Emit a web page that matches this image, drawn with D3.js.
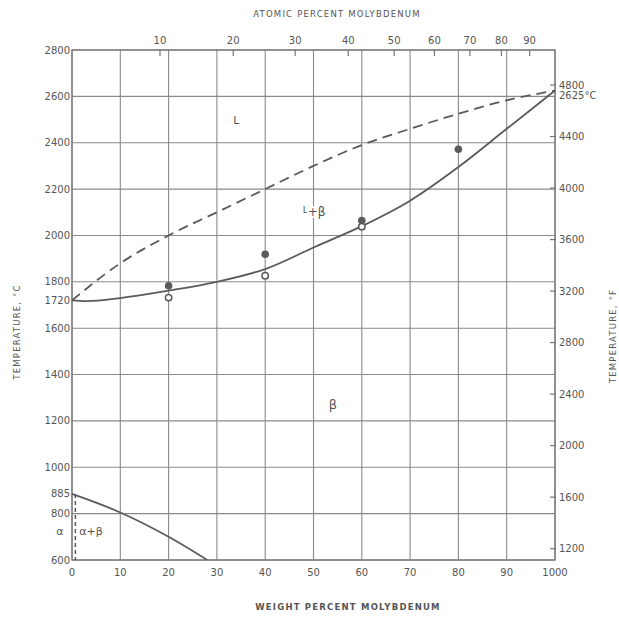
<!DOCTYPE html>
<html>
<head>
<meta charset="utf-8">
<title>Ti-Mo phase diagram</title>
<script src="https://d3js.org/d3.v7.min.js"></script>
<style>
  body { margin: 0; background: #fff; }
  svg { display: block; }
  text { font-family: "DejaVu Sans", sans-serif; fill: #555; }
  .tick-lbl { font-size: 10px; }
  .title { font-size: 8.5px; letter-spacing: 1.2px; }
  .region { font-size: 12px; }
</style>
</head>
<body>
<svg width="619" height="617"></svg>
<script>
// data
var wtTicks = [0, 10, 20, 30, 40, 50, 60, 70, 80, 90, 100];
var wtLabels = ["0", "10", "20", "30", "40", "50", "60", "70", "80", "90", "1000"];
var atTicks = [10, 20, 30, 40, 50, 60, 70, 80, 90];
var cTicks = [600, 800, 1000, 1200, 1400, 1600, 1800, 2000, 2200, 2400, 2600, 2800];
var cLabels = ["600", "800", "1000", "1200", "1400", "1600", "1800", "2000", "2200", "2400", "2600", "2800"];
var fTicks = [1200, 1600, 2000, 2400, 2800, 3200, 3600, 4000, 4400, 4800];

// liquidus (dashed) and solidus (solid), [wt% Mo, deg C]
var liquidus = [[0, 1720], [10, 1880], [20, 2000], [30, 2100], [40, 2200], [50, 2300],
                [60, 2390], [70, 2460], [80, 2525], [90, 2583], [100, 2625]];
var solidus = [[0, 1720], [3, 1717], [10, 1730], [20, 1762], [30, 1800], [40, 1855],
               [50, 1948], [60, 2040], [70, 2150], [80, 2295], [90, 2460], [100, 2625]];
// beta transus and alpha boundary
var transus = [[0, 885], [10, 805], [20, 700], [28, 600]];
var alphaBound = [[0.7, 885], [0.7, 600]];
// experimental points
var filledPts = [[20, 1783], [40, 1919], [60, 2064], [80, 2372]];
var openPts = [[20, 1732], [40, 1826], [60, 2038]];

var svg = d3.select("svg");
var x = d3.scaleLinear().domain([0, 100]).range([72, 555]);
var y = d3.scaleLinear().domain([600, 2800]).range([560, 50]);
var yF = d3.scaleLinear().domain([600 * 9 / 5 + 32, 2800 * 9 / 5 + 32]).range([560, 50]);

// atomic % Mo -> weight % Mo
function atToWt(a) {
  var mo = 95.95, ti = 47.87;
  return 100 * a * mo / (a * mo + (100 - a) * ti);
}

var lineCol = "#5a5a5a", gridCol = "#8a8a8a";

// grid
svg.append("g").selectAll("line").data(wtTicks).enter().append("line")
  .attr("x1", d => x(d)).attr("x2", d => x(d))
  .attr("y1", y(2800)).attr("y2", y(600))
  .attr("stroke", gridCol).attr("stroke-width", 1.1);
svg.append("g").selectAll("line").data(cTicks).enter().append("line")
  .attr("x1", x(0)).attr("x2", x(100))
  .attr("y1", d => y(d)).attr("y2", d => y(d))
  .attr("stroke", gridCol).attr("stroke-width", 1.1);

// frame
svg.append("rect").attr("x", x(0)).attr("y", y(2800))
  .attr("width", x(100) - x(0)).attr("height", y(600) - y(2800))
  .attr("fill", "none").attr("stroke", "#777").attr("stroke-width", 1.3);

// top atomic-percent ticks
svg.append("g").selectAll("line").data(atTicks).enter().append("line")
  .attr("x1", d => x(atToWt(d))).attr("x2", d => x(atToWt(d)))
  .attr("y1", y(2800)).attr("y2", y(2800) + 6)
  .attr("stroke", "#777").attr("stroke-width", 1.2);
svg.append("g").selectAll("text").data(atTicks).enter().append("text")
  .attr("class", "tick-lbl")
  .attr("x", d => x(atToWt(d))).attr("y", 44)
  .attr("text-anchor", "middle").text(d => d);

// right F ticks
svg.append("g").selectAll("line").data(fTicks).enter().append("line")
  .attr("x1", x(100) - 5).attr("x2", x(100) + 1)
  .attr("y1", d => yF(d)).attr("y2", d => yF(d))
  .attr("stroke", "#777").attr("stroke-width", 1.2);
svg.append("g").selectAll("text").data(fTicks).enter().append("text")
  .attr("class", "tick-lbl")
  .attr("x", x(100) + 4).attr("y", d => yF(d) + 3.5)
  .text(d => d);
svg.append("text").attr("class", "tick-lbl")
  .attr("x", x(100) + 4).attr("y", y(2625) + 8).text("2625°C");

// left C labels
svg.append("g").selectAll("text").data(cTicks).enter().append("text")
  .attr("class", "tick-lbl")
  .attr("x", x(0) - 2).attr("y", d => y(d) + 3.5)
  .attr("text-anchor", "end").text((d, i) => cLabels[i]);
svg.append("text").attr("class", "tick-lbl").attr("x", x(0) - 2).attr("y", y(1720) + 3.5)
  .attr("text-anchor", "end").text("1720");
svg.append("text").attr("class", "tick-lbl").attr("x", x(0) - 2).attr("y", y(885) + 3.5)
  .attr("text-anchor", "end").text("885");

// bottom labels
svg.append("g").selectAll("text").data(wtTicks).enter().append("text")
  .attr("class", "tick-lbl")
  .attr("x", d => x(d)).attr("y", 576)
  .attr("text-anchor", "middle").text((d, i) => wtLabels[i]);

// axis titles
svg.append("text").attr("class", "title").attr("x", 337).attr("y", 17)
  .attr("text-anchor", "middle").text("ATOMIC PERCENT MOLYBDENUM");
svg.append("text").attr("class", "title").attr("x", 348).attr("y", 610)
  .attr("text-anchor", "middle").style("font-weight", "bold").text("WEIGHT PERCENT MOLYBDENUM");
svg.append("text").attr("class", "title")
  .attr("transform", "translate(20,332) rotate(-90)")
  .attr("text-anchor", "middle").text("TEMPERATURE, °C");
svg.append("text").attr("class", "title")
  .attr("transform", "translate(616,336) rotate(-90)")
  .attr("text-anchor", "middle").text("TEMPERATURE, °F");

// curves
var line = d3.line().x(d => x(d[0])).y(d => y(d[1])).curve(d3.curveMonotoneX);
svg.append("path").datum(liquidus).attr("d", line)
  .attr("fill", "none").attr("stroke", lineCol).attr("stroke-width", 1.8)
  .attr("stroke-dasharray", "10,6");
svg.append("path").datum(solidus).attr("d", line)
  .attr("fill", "none").attr("stroke", lineCol).attr("stroke-width", 1.8);
svg.append("path").datum(transus).attr("d", line)
  .attr("fill", "none").attr("stroke", lineCol).attr("stroke-width", 1.8);
svg.append("path").datum(alphaBound)
  .attr("d", d3.line().x(d => x(d[0])).y(d => y(d[1])))
  .attr("fill", "none").attr("stroke", lineCol).attr("stroke-width", 1.5)
  .attr("stroke-dasharray", "4,3");

// points
svg.append("g").selectAll("circle").data(filledPts).enter().append("circle")
  .attr("cx", d => x(d[0])).attr("cy", d => y(d[1])).attr("r", 3.8)
  .attr("fill", "#5a5a5a");
svg.append("g").selectAll("circle").data(openPts).enter().append("circle")
  .attr("cx", d => x(d[0])).attr("cy", d => y(d[1])).attr("r", 3.2)
  .attr("fill", "#fff").attr("stroke", "#5a5a5a").attr("stroke-width", 1.5);

// region labels
function label(tx, ty, txt, size) {
  return svg.append("text").attr("class", "region").attr("x", tx).attr("y", ty)
    .attr("text-anchor", "middle").style("font-size", size + "px")
    .attr("stroke", "#fff").attr("stroke-width", 4).attr("paint-order", "stroke")
    .text(txt);
}
label(x(34), y(2480), "L", 11);
var lb = svg.append("text").attr("class", "region").attr("x", 314).attr("y", 216)
  .attr("text-anchor", "middle").attr("stroke", "#fff").attr("stroke-width", 4)
  .attr("paint-order", "stroke");
lb.append("tspan").style("font-size", "9px").attr("dy", -3).text("L");
lb.append("tspan").style("font-size", "12px").attr("dy", 3).text("+β");
label(x(54), y(1250), "β", 13);
svg.append("text").attr("class", "region").attr("x", 91).attr("y", 535)
  .attr("text-anchor", "middle").style("font-size", "11px")
  .attr("stroke", "#fff").attr("stroke-width", 3).attr("paint-order", "stroke").text("α+β");
svg.append("text").attr("class", "region").attr("x", 60).attr("y", 535)
  .attr("text-anchor", "middle").style("font-size", "11px").text("α");
</script>
</body>
</html>
